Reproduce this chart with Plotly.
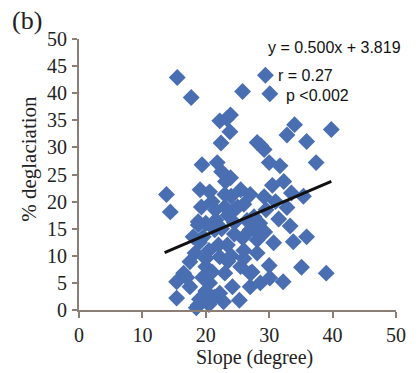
import plotly.graph_objects as go

slope = [15.5, 17.7, 25.8, 29.4, 30.1, 22.2, 23.9, 23.3, 23.8, 22.4, 28.1, 29.2, 28.7,
         32.8, 34.0, 35.9, 39.8, 37.4, 30.0, 31.7, 19.4, 21.8, 32.3, 33.5, 35.4, 32.8,
         31.5, 33.3, 35.9, 33.8, 35.1, 39.0, 30.0, 32.2, 30.1, 27.3, 27.0, 25.3, 28.1,
         30.7, 29.3, 27.0, 25.0, 25.5, 27.0, 29.2, 27.6, 24.5, 13.8, 14.4, 19.1, 20.6,
         23.1, 23.9, 19.3, 23.0, 23.0, 18.8, 21.6, 15.4, 15.4, 17.5, 18.5, 18.8, 18.3,
         17.5, 19.6, 20.0, 20.6, 21.4, 22.2, 23.0, 23.4, 25.5, 25.8, 27.0, 28.1, 27.6,
         21.4, 24.5, 24.2, 22.2, 16.5, 28.6, 19.0, 20.0, 19.5, 21.0, 22.0, 20.5, 19.0,
         21.5, 22.5, 24.0, 24.5, 26.0, 26.5, 23.5, 20.0, 21.0, 22.5, 24.0, 26.0, 17.0,
         18.0, 20.5, 22.8, 23.5, 26.0, 28.5, 29.5, 31.0, 30.5, 20.0, 18.8]
deglac = [42.9, 39.2, 40.3, 43.3, 39.9, 34.9, 36.0, 35.3, 32.9, 30.8, 30.9, 29.6, 30.3,
          32.3, 34.2, 31.1, 33.3, 27.2, 27.2, 26.6, 26.8, 27.2, 23.7, 21.6, 21.0, 18.9,
          16.8, 15.5, 13.5, 12.6, 7.9, 6.8, 8.2, 5.2, 5.9, 7.0, 4.3, 1.8, 12.9,
          12.4, 14.4, 14.8, 19.0, 22.2, 21.3, 20.9, 17.2, 18.5, 21.3, 18.1, 22.2, 21.8,
          23.7, 24.4, 19.0, 21.3, 19.0, 16.3, 16.6, 5.2, 2.2, 4.3, 0.4, 15.7, 10.5,
          8.9, 13.5, 8.0, 5.0, 2.4, 9.8, 6.8, 12.0, 8.0, 13.3, 6.8, 10.5, 14.8,
          14.8, 16.1, 4.3, 3.1, 6.8, 5.0, 2.0, 3.5, 6.0, 7.0, 12.0, 11.0, 12.5,
          18.5, 15.0, 10.0, 14.0, 11.0, 16.5, 17.5, 16.0, 20.0, 25.5, 21.0, 19.5, 6.0,
          13.5, 1.0, 1.5, 9.0, 9.5, 16.0, 18.5, 20.0, 23.0, 9.5, 0.9]

fit_slope = 0.500
fit_intercept = 3.819
fit_x = [13.5, 39.8]
fit_y = [fit_slope * v + fit_intercept for v in fit_x]

x_ticks = [0, 10, 20, 30, 40, 50]
y_ticks = [0, 5, 10, 15, 20, 25, 30, 35, 40, 45, 50]

fig = go.Figure()
fig.add_trace(go.Scatter(x=slope, y=deglac, mode="markers",
                         marker=dict(symbol="diamond", size=13, color="#4A6EB2",
                                     line=dict(width=0)),
                         cliponaxis=False, showlegend=False))
fig.add_trace(go.Scatter(x=fit_x, y=fit_y, mode="lines",
                         line=dict(color="#111111", width=3),
                         cliponaxis=False, showlegend=False))

axis_color = "#8A7E76"
serif = "Liberation Serif"
fig.update_layout(
    width=418, height=373,
    margin=dict(l=79, r=17, t=39, b=63),
    paper_bgcolor="white", plot_bgcolor="white",
    xaxis=dict(range=[0, 50], tickvals=x_ticks, ticks="outside", ticklen=6,
               tickwidth=2, tickcolor=axis_color, showline=True, linecolor=axis_color,
               linewidth=2, showgrid=False, zeroline=False,
               tickfont=dict(family=serif, size=20, color="#222222")),
    yaxis=dict(range=[0, 50], tickvals=y_ticks, ticks="outside", ticklen=5,
               tickwidth=2, tickcolor=axis_color, showline=True, linecolor=axis_color,
               linewidth=2, showgrid=False, zeroline=False, ticklabelstandoff=1,
               tickfont=dict(family=serif, size=20, color="#222222")),
)

fig.add_annotation(text="Slope (degree)", xref="paper", yref="paper",
                   x=(257 - 79) / 322, y=-(357 - 310) / 271, xanchor="center", yanchor="middle",
                   showarrow=False, font=dict(family=serif, size=20, color="#222222"))
fig.add_annotation(text="% deglaciation", xref="paper", yref="paper",
                   x=-(79 - 28) / 322, y=(310 - 159) / 271, xanchor="center", yanchor="middle",
                   textangle=-90, showarrow=False,
                   font=dict(family=serif, size=21, color="#222222"))
fig.add_annotation(text="(b)", xref="paper", yref="paper",
                   x=-(79 - 9) / 322, y=(310 - 20) / 271, xanchor="left", yanchor="middle",
                   showarrow=False, font=dict(family=serif, size=26, color="#222222"))

sans = "Liberation Sans"
for txt, px, py in [("y = 0.500x + 3.819", 269, 47), ("r = 0.27", 279, 75), ("p <0.002", 287, 95)]:
    fig.add_annotation(text=txt, xref="paper", yref="paper",
                       x=(px - 79) / 322, y=(310 - py) / 271, xanchor="left", yanchor="middle",
                       showarrow=False, font=dict(family=sans, size=16, color="#111111"))

fig.write_html("out.html")
